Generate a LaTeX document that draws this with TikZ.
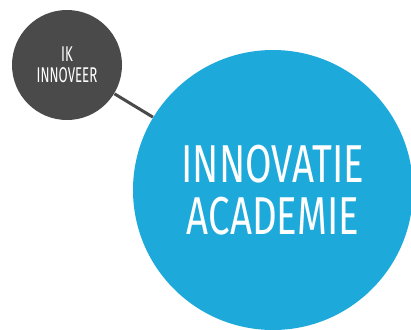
\documentclass[tikz,border=0pt]{standalone}
\usepackage{fontspec}
\newfontfamily\handfont[FakeStretch=0.72]{Fira Sans}
\newfontfamily\smallhandfont[FakeStretch=0.62]{Fira Sans}

\definecolor{inkgrey}{RGB}{74,74,74}
\definecolor{academieblue}{RGB}{30,169,219}

\tikzset{every picture/.style={line width=0.75pt}}
\tikzset{bubble/.style={circle, inner sep=0pt, draw=none, text=white, align=center}}

\begin{document}
\begin{tikzpicture}[x=0.75pt,y=0.75pt,yscale=-1,xscale=1]
                      \useasboundingbox (0,0) rectangle (411,329);
                      \clip (0,0) rectangle (411,329);

                      %Shape: Circle [id:dp_ik] 
                      \node [bubble, fill=inkgrey, minimum size=82.5pt, font=\smallhandfont\fontsize{16}{15.75}\selectfont] (ik) at (67,65) {IK\\INNOVEER};
                      %Shape: Circle [id:dp_academie] 
                      \node [bubble, fill=academieblue, minimum size=210pt, font=\handfont\fontsize{40}{39}\selectfont] (academie) at (273,190) {INNOVATIE\\ACADEMIE};

                      %Straight Lines [id:da_link] 
                      \draw [color=inkgrey, line width=2.25]    (ik) -- (academie) ;

\end{tikzpicture}
\end{document}
